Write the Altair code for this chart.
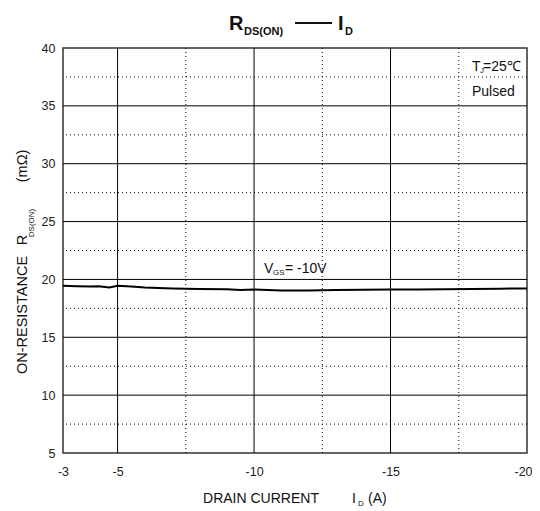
import altair as alt
import pandas as pd

# Data (VGS = -10V)
drain_current = [-3, -3.5, -4, -4.3, -4.7, -5, -5.5, -6, -7, -8, -9, -9.5, -10,
                 -11, -12, -13, -14, -15, -16, -17, -18, -19, -20]
r_ds_on = [19.45, 19.42, 19.38, 19.42, 19.3, 19.45, 19.38, 19.3, 19.22, 19.18, 19.15,
           19.08, 19.12, 19.05, 19.05, 19.08, 19.1, 19.12, 19.13, 19.15, 19.18, 19.2, 19.22]

x_ticks = [-3, -5, -10, -15, -20]
y_ticks = [5, 10, 15, 20, 25, 30, 35, 40]
x_major = [-5, -10, -15]
x_minor = [-7.5, -12.5, -17.5]
y_major = [10, 15, 20, 25, 30, 35]
y_minor = [7.5, 12.5, 17.5, 22.5, 27.5, 32.5, 37.5]

FONT = "Liberation Sans"
xs = alt.Scale(domain=[-20, -3], reverse=True, nice=False, zero=False)
ys = alt.Scale(domain=[5, 40], nice=False, zero=False)
xaxis = alt.Axis(values=x_ticks, title=None, grid=False, ticks=False, domain=False,
                 labelFontSize=12.5, labelPadding=12, labelColor="#222", labelFont=FONT,
                 labelFlush=False, labelExpr="'-' + abs(datum.value)",
                 labelOffset={"condition": {"test": "datum.value == -20", "value": -4}, "value": 0})
yaxis = alt.Axis(values=y_ticks, title=None, grid=False, ticks=False, domain=False,
                 labelFontSize=12.5, labelPadding=8, labelColor="#222", labelFont=FONT,
                 labelFlush=False)

curve = pd.DataFrame({"id": drain_current, "r": r_ds_on})

line = alt.Chart(curve).mark_line(color="black", strokeWidth=2).encode(
    x=alt.X("id:Q", scale=xs, axis=xaxis),
    y=alt.Y("r:Q", scale=ys, axis=yaxis),
)
vmaj = alt.Chart(pd.DataFrame({"id": x_major})).mark_rule(color="black", strokeWidth=1).encode(
    x=alt.X("id:Q", scale=xs, axis=xaxis))
vmin = alt.Chart(pd.DataFrame({"id": x_minor})).mark_rule(color="black", strokeWidth=1, strokeDash=[1, 3]).encode(
    x=alt.X("id:Q", scale=xs, axis=xaxis))
hmaj = alt.Chart(pd.DataFrame({"r": y_major})).mark_rule(color="black", strokeWidth=1).encode(
    y=alt.Y("r:Q", scale=ys, axis=yaxis))
hmin = alt.Chart(pd.DataFrame({"r": y_minor})).mark_rule(color="black", strokeWidth=1, strokeDash=[1, 3]).encode(
    y=alt.Y("r:Q", scale=ys, axis=yaxis))

dummy = pd.DataFrame({"a": [0]})


def txt(s, x, y, size, bold=False, angle=0, align="left", baseline="middle"):
    kw = dict(text=s, font=FONT, fontSize=size, color="#111", align=align, baseline=baseline)
    if bold:
        kw["fontWeight"] = "bold"
    if angle:
        kw["angle"] = angle
    return alt.Chart(dummy).mark_text(**kw).encode(x=alt.value(x), y=alt.value(y))


texts = [
    # title
    txt("R", 166, -18, 20, bold=True, baseline="alphabetic"),
    txt("DS(ON)", 181, -13, 11, bold=True, baseline="alphabetic"),
    txt("I", 275, -18, 20, bold=True, baseline="alphabetic"),
    txt("D", 282, -13, 11, bold=True, baseline="alphabetic"),
    # y title
    txt("ON-RESISTANCE", -40, 267, 14.5, angle=270, align="center"),
    txt("R", -40, 192, 14.5, angle=270, align="center"),
    txt("DS(ON)", -31, 175, 8, angle=270, align="center"),
    txt("(mΩ)", -40, 118, 14.5, angle=270, align="center"),
    # x title
    txt("DRAIN CURRENT", 198, 451, 14, align="center"),
    txt("I", 289, 451, 14),
    txt("D", 295, 456, 8),
    txt("(A)", 305, 451, 14),
    # annotations
    txt("T", 409, 19, 14),
    txt("J", 417, 23, 8),
    txt("=25℃", 420, 19, 14),
    txt("Pulsed", 409, 44, 14),
    txt("V", 201, 221, 14),
    txt("GS", 210, 225, 8),
    txt("= -10V", 222, 221, 14),
]

dash = alt.Chart(dummy).mark_rule(color="#111", strokeWidth=2).encode(
    x=alt.value(232), x2=alt.value(269), y=alt.value(-25))

chart = alt.layer(line, vmaj, vmin, hmaj, hmin, dash, *texts).properties(
    width=464, height=405,
    padding={"left": 55, "top": 40, "right": 5, "bottom": 58},
    autosize=alt.AutoSizeParams(type="none"),
).configure_view(stroke="#333", strokeWidth=1.5)

chart.save("out.html", embed_options={"renderer": "svg", "actions": False})
